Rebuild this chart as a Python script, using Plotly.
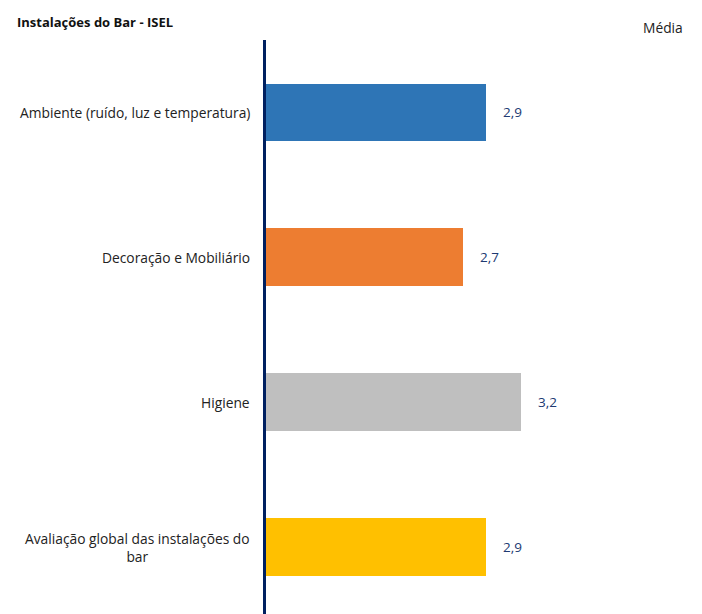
import plotly.graph_objects as go

# Survey results: average rating per aspect of the ISEL bar facilities
categories = [
    "Ambiente (ruído, luz e temperatura)",
    "Decoração e Mobiliário",
    "Higiene",
    "Avaliação global das instalações do<br>bar",
]
values = [2.9, 2.7, 3.2, 2.9]
colors = ["#2E75B6", "#ED7D31", "#BFBFBF", "#FFC000"]

title_text = "Instalações do Bar - ISEL"
legend_text = "Média"

positions = list(range(len(categories)))
font_family = "'Open Sans', 'Noto Sans', sans-serif"
navy = "#002060"

ML, MR, MT = 266, 88, 40
W, H = 702, 614
plot_w = W - ML - MR
plot_h = H - MT

fig = go.Figure()
fig.add_trace(
    go.Bar(
        x=[v - 1 for v in values],
        base=1,
        y=positions,
        orientation="h",
        marker=dict(color=colors, line=dict(width=0)),
        width=0.4,
        hoverinfo="skip",
        showlegend=False,
    )
)

annotations = []
# Category labels, centred line by line to the left of the axis
for pos, cat in zip(positions, categories):
    annotations.append(
        dict(
            x=0, xref="paper", y=pos, yref="y",
            xanchor="right", yanchor="middle", xshift=-14,
            text=cat, showarrow=False, align="center",
            font=dict(family=font_family, size=13.8, color="#222222"),
        )
    )
# Value labels beside each bar
for pos, v in zip(positions, values):
    annotations.append(
        dict(
            x=v, xref="x", y=pos, yref="y",
            xanchor="left", yanchor="middle", xshift=15,
            text=f"{v:.1f}".replace(".", ","), showarrow=False,
            font=dict(family=font_family, size=13.5, color="#203A72"),
        )
    )
# Chart title and legend caption
annotations.append(
    dict(
        x=(15 - ML) / plot_w, xref="paper", y=1 + (MT - 22) / plot_h, yref="paper",
        xanchor="left", yanchor="middle",
        text=f"<b>{title_text}</b>", showarrow=False,
        font=dict(family=font_family, size=13, color="#111111"),
    )
)
annotations.append(
    dict(
        x=(663 - ML) / plot_w, xref="paper", y=1 + (MT - 28) / plot_h, yref="paper",
        xanchor="center", yanchor="middle",
        text=legend_text, showarrow=False,
        font=dict(family=font_family, size=13.8, color="#222222"),
    )
)

fig.update_layout(
    width=W,
    height=H,
    margin=dict(l=ML, r=MR, t=MT, b=0),
    paper_bgcolor="white",
    plot_bgcolor="white",
    annotations=annotations,
    xaxis=dict(
        range=[1, 4], showgrid=False, zeroline=False,
        showticklabels=False, showline=False, ticks="",
    ),
    yaxis=dict(
        range=[3.459, -0.5], showgrid=False, zeroline=False,
        showticklabels=False, ticks="",
        showline=True, linecolor=navy, linewidth=3,
    ),
    bargap=0,
)

fig.write_html("out.html")
